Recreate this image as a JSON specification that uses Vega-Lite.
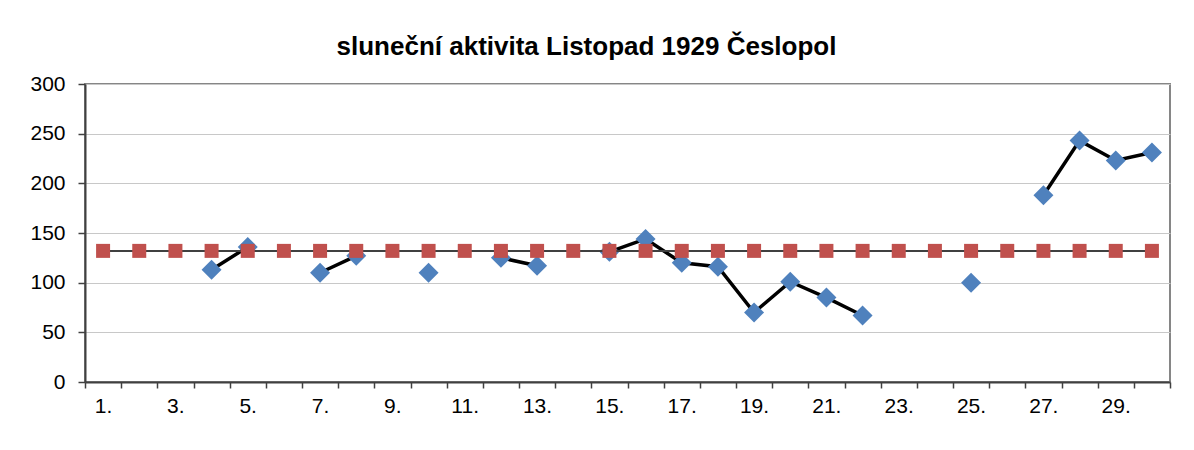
{
  "$schema": "https://vega.github.io/schema/vega-lite/v6.json",
  "autosize": {"type": "none"},
  "width": 1085,
  "height": 298,
  "padding": {"left": 85, "top": 84, "right": 24, "bottom": 68},
  "background": "white",
  "config": {
    "font": "Liberation Sans",
    "view": {"stroke": "#868686", "strokeWidth": 2}
  },
  "title": {
    "text": "sluneční aktivita Listopad 1929 Česlopol",
    "font": "Liberation Sans",
    "fontSize": 26,
    "fontWeight": "bold",
    "color": "#000000",
    "anchor": "middle",
    "dx": -41,
    "offset": 13
  },
  "data": {
    "values": [
      {"day": 1, "v": null, "avg": 132},
      {"day": 2, "v": null, "avg": 132},
      {"day": 3, "v": null, "avg": 132},
      {"day": 4, "v": 113, "avg": 132},
      {"day": 5, "v": 136, "avg": 132},
      {"day": 6, "v": null, "avg": 132},
      {"day": 7, "v": 110, "avg": 132},
      {"day": 8, "v": 127, "avg": 132},
      {"day": 9, "v": null, "avg": 132},
      {"day": 10, "v": 110, "avg": 132},
      {"day": 11, "v": null, "avg": 132},
      {"day": 12, "v": 125, "avg": 132},
      {"day": 13, "v": 117, "avg": 132},
      {"day": 14, "v": null, "avg": 132},
      {"day": 15, "v": 131, "avg": 132},
      {"day": 16, "v": 144, "avg": 132},
      {"day": 17, "v": 120, "avg": 132},
      {"day": 18, "v": 116, "avg": 132},
      {"day": 19, "v": 70, "avg": 132},
      {"day": 20, "v": 101, "avg": 132},
      {"day": 21, "v": 85, "avg": 132},
      {"day": 22, "v": 67, "avg": 132},
      {"day": 23, "v": null, "avg": 132},
      {"day": 24, "v": null, "avg": 132},
      {"day": 25, "v": 100, "avg": 132},
      {"day": 26, "v": null, "avg": 132},
      {"day": 27, "v": 188, "avg": 132},
      {"day": 28, "v": 243, "avg": 132},
      {"day": 29, "v": 223, "avg": 132},
      {"day": 30, "v": 231, "avg": 132}
    ]
  },
  "encoding": {
    "x": {
      "field": "day",
      "type": "quantitative",
      "scale": {"domain": [0.5, 30.5], "nice": false, "zero": false},
      "axis": {
        "title": null,
        "values": [0.5, 1.5, 2.5, 3.5, 4.5, 5.5, 6.5, 7.5, 8.5, 9.5, 10.5, 11.5, 12.5, 13.5, 14.5, 15.5, 16.5, 17.5, 18.5, 19.5, 20.5, 21.5, 22.5, 23.5, 24.5, 25.5, 26.5, 27.5, 28.5, 29.5, 30.5],
        "labelExpr": "(datum.value < 30 && (datum.value + 0.5) % 2 == 1) ? (datum.value + 0.5) + '.' : ''",
        "labelOffset": 18,
        "labelOverlap": false,
        "labelBound": false,
        "labelFlush": false,
        "labelFontSize": 21,
        "labelColor": "#000000",
        "labelPadding": 7,
        "tickSize": 6,
        "tickColor": "#404040",
        "tickWidth": 1.5,
        "domainColor": "#404040",
        "domainWidth": 2,
        "grid": false
      }
    }
  },
  "layer": [
    {
      "mark": {"type": "line", "color": "#000000", "strokeWidth": 3.5, "invalid": "break-paths-show-domains"},
      "encoding": {
        "y": {
          "field": "v",
          "type": "quantitative",
          "scale": {"domain": [0, 300], "nice": false},
          "axis": {
            "title": null,
            "values": [0, 50, 100, 150, 200, 250, 300],
            "labelFontSize": 21,
            "labelColor": "#000000",
            "labelPadding": 13,
            "tickSize": 7,
            "tickColor": "#404040",
            "tickWidth": 1.5,
            "domainColor": "#404040",
            "domainWidth": 2,
            "grid": true,
            "gridColor": "#C8C8C8",
            "gridWidth": 1.2
          }
        }
      }
    },
    {
      "transform": [{"filter": "datum.v != null"}],
      "mark": {"type": "point", "shape": "diamond", "filled": true, "size": 400, "color": "#4F81BD", "opacity": 1},
      "encoding": {"y": {"field": "v", "type": "quantitative"}}
    },
    {
      "mark": {"type": "line", "color": "#404040", "strokeWidth": 2},
      "encoding": {"y": {"field": "avg", "type": "quantitative"}}
    },
    {
      "mark": {"type": "point", "shape": "square", "filled": true, "size": 196, "color": "#C0504D", "opacity": 1},
      "encoding": {"y": {"field": "avg", "type": "quantitative"}}
    }
  ]
}
